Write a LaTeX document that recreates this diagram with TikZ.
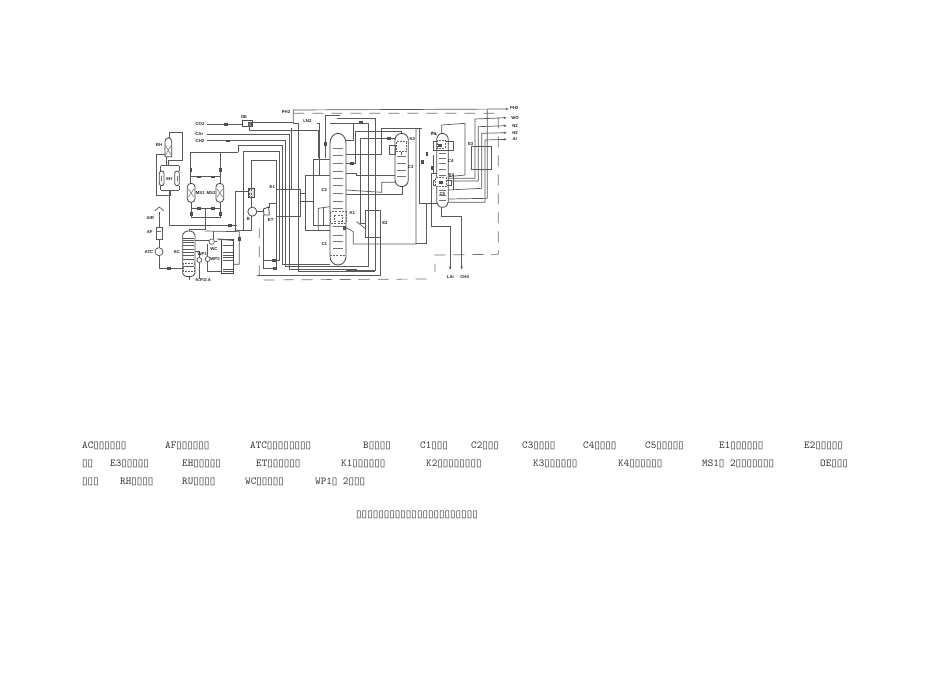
\documentclass[tikz,border=0pt]{standalone}
\usepackage{fontspec}
\setmainfont{Liberation Sans}
\newfontfamily\tofu{DejaVu Sans}
\usetikzlibrary{arrows.meta}
\newcommand\tf[1]{{\tofu\fontsize{10.05}{10}\selectfont #1}}
\newcommand\vlv[2]{\node[valve] (#1) at (#2) {};}
\newcommand\lbl[3]{\node[lab] (#1) at (#2) {#3};}
\newcommand\leg[3]{\node[legd] (#1) at (#2) {#3};}
\tikzset{
 pipe/.style={draw=black!65,line width=.7pt},
 thin pipe/.style={draw=black!55,line width=.55pt},
 shell/.style={draw=black!72,line width=.8pt,fill=white},
 bound/.style={draw=black!55,line width=.7pt,dash pattern=on 11pt off 8pt},
 dash box/.style={draw=black!60,line width=.55pt,dash pattern=on 2pt off 1.2pt},
 valve/.style={draw=black!70,fill=black!65,minimum width=3pt,minimum height=1.8pt,inner sep=0pt,line width=.3pt},
 lab/.style={text=black!85,font=\bfseries\fontsize{4.3}{5}\selectfont,inner sep=0pt},
 legd/.style={anchor=base west,inner sep=0pt,text=black!80,font=\ttfamily\fontsize{10.6}{11}\selectfont},
}
\begin{document}
\begin{tikzpicture}[x=1pt,y=-1pt]
\useasboundingbox[fill=white] (0,0) rectangle (950,672);
\begin{scope}[shift={(140pt,-95pt)},x=.33333pt,y=-.33333pt]
% ---------- cold box boundary
\draw[bound] (460,55) -- (1075,55) -- (1075,478) -- (885,480) -- (885,530);
\draw[bound] (860,552) -- (358,555) -- (358,400);
% ---------- top line PH2 etc.
\draw[pipe,-{Stealth[length=3pt,width=2.4pt]}] (460,85) -- (460,45) -- (1106,42);
\draw[pipe] (338,82) -- (460,82);
\draw[pipe] (460,85) -- (475,85) -- (475,530) -- (705,530);
\draw[pipe] (200,87) -- (308,87);
\draw[pipe] (328,95) -- (328,105) -- (535,105) -- (535,190);
\draw[pipe] (200,118) -- (447,118) -- (447,522) -- (650,522);
\draw[pipe] (200,137) -- (437,137) -- (437,515) -- (625,515);
\draw[pipe] (295,172) -- (295,152) -- (428,152) -- (428,507) -- (570,507);
\draw[pipe] (310,405) -- (310,170) -- (417,170) -- (417,497) -- (370,497);
\draw[pipe] (335,285) -- (335,196) -- (408,196) -- (408,520) -- (370,520) -- (370,360);
\draw[pipe] (455,282) -- (455,100);
\draw[pipe] (482,295) -- (497,295);
\draw[pipe] (482,320) -- (520,320);
\draw[pipe] (570,240) -- (497,240) -- (497,405) -- (570,405);
\draw[pipe] (570,192) -- (520,192) -- (520,392) -- (570,392);
\draw[pipe] (600,60) -- (555,60) -- (555,190);
\draw[pipe] (537,240) -- (537,85) -- (530,85);
\draw[pipe] (570,335) -- (535,340) -- (535,405);
\draw[pipe] (550,340) -- (550,390);
% column connections
\draw[pipe] (590,70) -- (705,70) -- (705,525) -- (618,525);
\draw[pipe] (570,85) -- (640,85) -- (640,135) -- (618,135);
\draw[pipe] (640,85) -- (685,85) -- (685,515) -- (618,515);
\draw[pipe] (618,205) -- (645,205) -- (645,110) -- (785,110) -- (785,115);
\draw[pipe] (618,178) -- (725,178) -- (725,100) -- (845,100);
\draw[pipe] (660,130) -- (765,130);
\draw[pipe] (660,385) -- (660,130);
\draw[pipe] (660,385) -- (675,385);
\draw[pipe] (618,235) -- (650,235) -- (650,240) -- (765,240) -- (765,215);
\draw[pipe] (618,285) -- (725,292) -- (725,262) -- (765,262);
\draw[pipe] (618,297) -- (788,297) -- (788,275);
\draw[pipe] (618,398) -- (640,410) -- (640,447) -- (828,447) -- (828,100);
\draw[pipe] (722,398) -- (722,540) -- (350,540);
\draw[pipe] (650,380) -- (675,400);
\draw[pipe] (838,100) -- (838,325) -- (892,325);
\draw[pipe] (860,325) -- (860,445) -- (828,445);
\draw[pipe] (873,395) -- (873,235) -- (890,235);
\draw[pipe] (873,395) -- (930,395) -- (930,523);
\draw[pipe] (905,335) -- (905,365) -- (965,365) -- (965,523);
\draw[pipe] (880,180) -- (880,235);
% ---------- C4/C5 to E3 and products
\draw[pipe] (905,115) -- (905,90) -- (975,85) -- (975,240) -- (925,245);
\draw[pipe,-{Stealth[length=3pt,width=2.4pt]}] (925,250) -- (1005,250) -- (1005,72) -- (1100,68);
\draw[pipe,-{Stealth[length=3pt,width=2.4pt]}] (935,258) -- (1015,258) -- (1015,95) -- (1100,92);
\draw[pipe,-{Stealth[length=3pt,width=2.4pt]}] (925,285) -- (1025,280) -- (1025,115) -- (1100,113);
\draw[pipe,-{Stealth[length=3pt,width=2.4pt]}] (925,322) -- (1035,322) -- (1035,135) -- (1100,133);
\draw[pipe] (1042,43) -- (1042,310) -- (925,312);
\draw[pipe] (940,240) -- (940,285);
% ---------- LAr/CH4 outlets
\draw[pipe,-{Stealth[length=3pt,width=2.4pt]}] (930,450) -- (930,523);
\draw[pipe,-{Stealth[length=3pt,width=2.4pt]}] (965,450) -- (965,523);
% ---------- heat exchangers
\node[draw=black!65,line width=.7pt,minimum width=24pt,minimum height=27.7pt,inner sep=0pt] (E1) at (446,323.5) {};
\node[draw=black!65,line width=.7pt,minimum width=15.7pt,minimum height=27pt,inner sep=0pt] (E2) at (698.5,387.5) {};
\node[draw=black!65,line width=.7pt,minimum width=20.3pt,minimum height=22.3pt,inner sep=0pt] (E3) at (1024.5,188.5) {};
% ---------- main column C1/C2
\draw[shell] (570,485) -- (570,145) arc[start angle=180,end angle=360,x radius=24,y radius=30] -- (618,485) arc[start angle=0,end angle=180,x radius=24,y radius=25];
\draw[dash box] (570,482) -- (618,482);
\foreach \yy in {160,180,205,228,250,272,295,318,340,395,420,440,460}{\draw[thin pipe] (578,\yy) -- (610,\yy);}
\draw[dash box] (570,350) rectangle (618,385);
\draw[dash box] (582,360) rectangle (606,378);
% ---------- vessel C3 with K2
\draw[shell] (765,255) -- (765,135) arc[start angle=180,end angle=360,x radius=20,y radius=20] -- (805,255) arc[start angle=0,end angle=180,x radius=20,y radius=20];
\foreach \yy in {185,205,225,245}{\draw[thin pipe] (772,\yy) -- (798,\yy);}
\draw[pipe] (748,150) rectangle (767,178);
\draw[dash box,fill=white] (768,140) rectangle (800,170);
\draw[pipe] (784,170) -- (784,180);
% ---------- vessel C4/C5
\draw[shell] (890,320) -- (890,135) arc[start angle=180,end angle=360,x radius=17.5,y radius=20] -- (925,320) arc[start angle=0,end angle=180,x radius=17.5,y radius=17];
\foreach \yy in {175,190,205,222,240,285,300,315}{\draw[thin pipe] (896,\yy) -- (919,\yy);}
\draw[pipe] (880,140) rectangle (940,165);
\draw[dash box,fill=white] (892,135) rectangle (915,160);
\draw[pipe] (880,255) rectangle (935,270);
\draw[dash box,fill=white] (885,248) rectangle (920,275);
\draw[pipe] (890,120) -- (875,110);
\vlv{vk3}{900,150}\vlv{vk4}{903,262}
% ---------- upper left: RH, EH
\draw[pipe] (87,128) -- (87,113) -- (128,113) -- (128,195) -- (85,195) -- (85,212);
\draw[pipe] (80,187) -- (80,212);
\draw[pipe] (75,178) -- (48,178) -- (48,300) -- (92,300) -- (92,285);
\draw[pipe] (62,212) -- (118,212);
\draw[pipe] (62,285) -- (118,285);
\draw[pipe] (62,212) -- (62,228) (118,212) -- (118,228) (62,272) -- (62,285) (118,272) -- (118,285);
\draw[pipe] (88,285) -- (88,392) -- (290,392);
\draw[shell] (75,185) -- (75,140) arc[start angle=180,end angle=360,x radius=10,y radius=12] -- (95,185) -- cycle;
\draw[thin pipe] (75,150) -- (95,182) (95,150) -- (75,182);
\draw[shell] (58,235) arc[start angle=180,end angle=360,x radius=7,y radius=7] -- (72,265) arc[start angle=0,end angle=180,x radius=7,y radius=7] -- cycle;
\draw[shell] (104,235) arc[start angle=180,end angle=360,x radius=7,y radius=7] -- (118,265) arc[start angle=0,end angle=180,x radius=7,y radius=7] -- cycle;
\draw[thin pipe] (65,243) -- (65,258) (111,243) -- (111,258);
% ---------- MS1/2
\draw[pipe] (295,172) -- (152,172) -- (152,265);
\draw[pipe] (240,172) -- (240,265);
\draw[pipe] (152,245) -- (240,245);
\draw[pipe] (153,322) -- (153,368) -- (240,368) -- (240,322);
\draw[pipe] (153,340) -- (240,340);
\draw[pipe] (197,340) -- (197,403) -- (148,403) -- (148,415);
\draw[shell] (142,275) arc[start angle=180,end angle=360,x radius=11.5,y radius=10] -- (165,312) arc[start angle=0,end angle=180,x radius=11.5,y radius=10] -- cycle;
\draw[shell] (228,275) arc[start angle=180,end angle=360,x radius=11.5,y radius=10] -- (251,312) arc[start angle=0,end angle=180,x radius=11.5,y radius=10] -- cycle;
\draw[thin pipe] (145,282) -- (162,306) (162,282) -- (145,306) (231,282) -- (248,306) (248,282) -- (231,306);
% ---------- AIR line
\draw[pipe] (44,348) -- (58,336) -- (72,348);
\draw[pipe] (58,352) -- (58,396);
\node[draw=black!65,fill=white,line width=.6pt,minimum width=6pt,minimum height=12pt,inner sep=0pt] (AFb) at (57,414) {};
\draw[thin pipe] (52,410) -- (62,410);
\draw[pipe] (57,432) -- (57,458);
\node[circle,draw=black!70,fill=white,line width=.7pt,minimum size=8pt,inner sep=0pt] (ATCc) at (57,470) {};
\draw[pipe] (57,482) -- (57,520) -- (128,520);
% ---------- AC
\draw[shell] (128,535) -- (128,420) arc[start angle=180,end angle=360,x radius=18.5,y radius=12] -- (165,535) arc[start angle=0,end angle=180,x radius=18.5,y radius=10] -- cycle;
\foreach \yy in {430,436,442,452,462,472,482,492,515}{\draw[pipe] (130,\yy) -- (163,\yy);}
\draw[dash box] (130,505) rectangle (163,530);
\draw[pipe] (147,545) -- (147,556);
\draw[pipe] (165,437) -- (208,437);
\draw[pipe] (222,440) -- (232,440);
\draw[pipe] (165,470) -- (178,470) -- (178,486);
\draw[pipe] (178,504) -- (178,552);
\draw[pipe] (203,448) -- (203,484);
\draw[pipe] (203,501) -- (203,530) -- (245,530);
\draw[pipe] (195,408) -- (298,410) -- (298,508) -- (280,508);
\draw[pipe] (220,432) -- (220,408);
\node[circle,draw=black!70,fill=white,line width=.6pt,minimum size=5.5pt,inner sep=0pt] (WCc) at (215,440) {};
\node[circle,draw=black!70,fill=white,line width=.7pt,minimum size=5pt,inner sep=0pt] (WP1c) at (178,495) {};
\node[circle,draw=black!70,fill=white,line width=.7pt,minimum size=5pt,inner sep=0pt] (WP2c) at (203,492) {};
% ---------- WC tower
\draw[shell] (245,432) rectangle (280,535);
\draw[line width=1.1pt,draw=black!65] (232,432) -- (280,436);
\foreach \yy in {452,472,480,488,496,522,530}{\draw[pipe] (248,\yy) -- (278,\yy);}
% ---------- OE, B, ET
\node[draw=black!70,fill=white,line width=.7pt,minimum width=10pt,minimum height=6pt,inner sep=0pt] (OEb) at (323,86) {};
\node[draw=black!65,fill=black!50,minimum width=2.4pt,minimum height=3.6pt,inner sep=0pt] (OEi) at (329,87) {};
\draw[pipe] (285,405) -- (285,288) -- (325,288);
\draw[pipe] (285,405) -- (310,405) (310,405) -- (335,405) -- (335,364);
\draw[pipe] (335,308) -- (335,336);
\node[draw=black!70,fill=black!12,line width=.7pt,minimum width=6pt,minimum height=9pt,inner sep=0pt] (HB) at (334,295) {};
\draw[dash box] (328,283) -- (328,308) (334,283) -- (334,308);
\node[circle,draw=black!70,fill=white,line width=.8pt,minimum size=9pt,inner sep=0pt] (Bc) at (337,350) {};
\draw[line width=1pt,draw=black!65] (351,349) -- (368,349);
\draw[shell] (370,342) -- (386,336) -- (388,360) -- (372,360) -- cycle;
\draw[pipe] (388,340) -- (388,325) -- (410,325);
% ---------- valves
\vlv{v1}{258,87}\vlv{v2}{262,137}\vlv{v3}{268,390}\vlv{v4}{87,520}
\vlv{v5}{175,245}\vlv{v6}{218,245}\vlv{v7}{175,340}\vlv{v8}{218,340}
\vlv{v13}{400,496}\vlv{v14}{405,520}
\node[valve,minimum width=1.8pt,minimum height=3pt] (v9) at (152,225) {};
\node[valve,minimum width=1.8pt,minimum height=3pt] (v10) at (240,225) {};
\node[valve,minimum width=1.8pt,minimum height=3pt] (v11) at (153,355) {};
\node[valve,minimum width=1.8pt,minimum height=3pt] (v12) at (240,355) {};
\node[valve,minimum width=1.8pt,minimum height=3pt] (v15) at (297,430) {};
\node[valve,minimum width=1.8pt,minimum height=3pt] (v16) at (555,145) {};
\vlv{v17}{662,82}\vlv{v18}{747,130}\vlv{v19}{635,205}
\node[valve,minimum width=1.8pt,minimum height=3pt] (v20) at (860,175) {};
\node[valve,minimum width=1.8pt,minimum height=3pt] (v21) at (847,200) {};
\node[valve,minimum width=1.8pt,minimum height=3pt] (v22) at (875,218) {};
\node[valve,minimum width=1.8pt,minimum height=3pt] (v23) at (612,398) {};
% ---------- labels
\lbl{lco}{180,86}{CO2}\lbl{lcar}{178,118}{CAr}\lbl{lch}{180,137}{CH2}
\lbl{loe}{312,65}{OE}\lbl{lph}{438,52}{PH2}\lbl{lln}{502,78}{LN2}
\lbl{lrh}{57,150}{RH}\lbl{leh}{88,252}{EH}\lbl{lms}{181,294}{MS1}\lbl{lmsb}{213,294}{MS2}
\lbl{lair}{31,368}{AIR}\lbl{laf}{29,410}{AF}\lbl{latc}{27,470}{ATC}\lbl{lac}{110,470}{AC}
\lbl{lwp}{187,477}{WP1}\lbl{lwpb}{225,492}{WP2}\lbl{lwc}{222,462}{WC}\lbl{lnpd}{190,555}{N.P.D.A}
\lbl{le1}{397,275}{E1}\lbl{lc2}{553,285}{C2}\lbl{lc1}{553,447}{C1}\lbl{let}{392,375}{ET}\lbl{lb}{325,373}{B}
\lbl{lk1}{637,355}{K1}\lbl{le2}{735,383}{E2}\lbl{lk2}{817,132}{K2}\lbl{lc3}{812,215}{C3}
\lbl{lk3}{881,118}{K3}\lbl{lc4}{932,198}{C4}\lbl{lk4}{934,240}{K4}\lbl{lc5}{907,298}{C5}\lbl{le3}{992,146}{E3}
\lbl{lph2}{1123,40}{PH2}\lbl{lwo}{1125,68}{WO}\lbl{ln2}{1125,92}{N2}\lbl{lh2}{1125,113}{H2}\lbl{lar}{1125,133}{Ar}
\lbl{llar}{932,545}{LAr}\lbl{lch4}{974,545}{CH4}
\end{scope}
% ---------- legend
\leg{a1}{82,448}{AC\tf{▯▯▯▯▯▯}}\leg{a2}{165,448}{AF\tf{▯▯▯▯▯▯}}\leg{a3}{250,448}{ATC\tf{▯▯▯▯▯▯▯▯}}
\leg{a4}{363,448}{B\tf{▯▯▯▯}}\leg{a5}{420,448}{C1\tf{▯▯▯}}\leg{a6}{471,448}{C2\tf{▯▯▯}}
\leg{a7}{522,448}{C3\tf{▯▯▯▯}}\leg{a8}{583,448}{C4\tf{▯▯▯▯}}\leg{a9}{645,448}{C5\tf{▯▯▯▯▯}}
\leg{a10}{719,448}{E1\tf{▯▯▯▯▯▯}}\leg{a11}{804,448}{E2\tf{▯▯▯▯▯}}
\leg{b1}{82,466}{\tf{▯▯}}\leg{b2}{110,466}{E3\tf{▯▯▯▯▯}}\leg{b3}{182,466}{EH\tf{▯▯▯▯▯}}
\leg{b4}{256,466}{ET\tf{▯▯▯▯▯▯}}\leg{b5}{341,466}{K1\tf{▯▯▯▯▯▯}}\leg{b6}{426,466}{K2\tf{▯▯▯▯▯▯▯▯}}
\leg{b7}{533,466}{K3\tf{▯▯▯▯▯▯}}\leg{b8}{618,466}{K4\tf{▯▯▯▯▯▯}}\leg{b9}{702,466}{MS1\tf{▯} 2\tf{▯▯▯▯▯▯▯}}\leg{b10}{820,466}{OE\tf{▯▯▯}}
\leg{c1}{82,484}{\tf{▯▯▯}}\leg{c2}{120,484}{RH\tf{▯▯▯▯}}\leg{c3}{182,484}{RU\tf{▯▯▯▯}}
\leg{c4}{245,484}{WC\tf{▯▯▯▯▯}}\leg{c5}{315,484}{WP1\tf{▯} 2\tf{▯▯▯}}
\leg{d1}{356,517}{\tf{▯▯▯▯▯▯▯▯▯▯▯▯▯▯▯▯▯▯▯▯▯▯}}
\end{tikzpicture}
\end{document}
